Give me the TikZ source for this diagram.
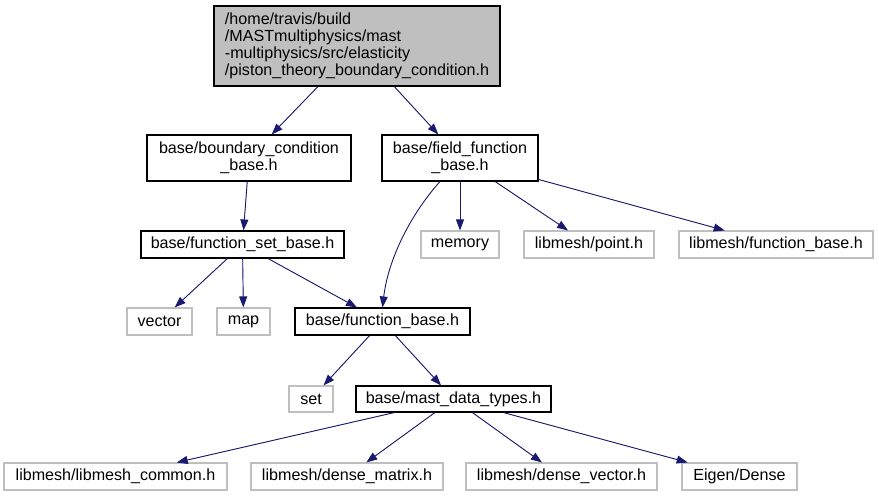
\documentclass[tikz,border=0pt]{standalone}
\usepackage{fontspec}
\setmainfont{Liberation Sans}
\usetikzlibrary{arrows.meta,calc}
\definecolor{edgeblue}{HTML}{191970}
\definecolor{lgray}{HTML}{BFBFBF}
\begin{document}
\begin{tikzpicture}[x=1pt,y=-1pt,
  every node/.style={font=\fontsize{16.1}{16.8}\selectfont, inner sep=0pt, align=center, text=black},
  mainbox/.style={draw=black, line width=1.1pt, fill=white},
  extbox/.style={draw=lgray, line width=1.1pt, fill=white},
  dep/.style={draw=edgeblue, line width=0.9pt, -{Triangle[length=11pt,width=8pt]}, fill=edgeblue}
]
\useasboundingbox (0,0) rectangle (879,496);
\node[draw=black, line width=1.1pt, fill=lgray, minimum width=286pt, minimum height=80pt, align=left] (A) at (357,46)
  {/home/travis/build\\/MASTmultiphysics/mast\\-multiphysics/src/elasticity\\/piston\_theory\_boundary\_condition.h};
\node[mainbox, minimum width=204pt, minimum height=46pt] (B) at (249,158) {base/boundary\_condition\\\_base.h};
\node[mainbox, minimum width=156pt, minimum height=46pt] (C) at (460,158) {base/field\_function\\\_base.h};
\node[mainbox, minimum width=203pt, minimum height=27pt] (D) at (242.5,244.5) {base/function\_set\_base.h};
\node[extbox, minimum width=78pt, minimum height=27pt] (E) at (460,244.5) {memory};
\node[extbox, minimum width=130pt, minimum height=27pt] (F) at (589,244.5) {libmesh/point.h};
\node[extbox, minimum width=194pt, minimum height=27pt] (G) at (776,244.5) {libmesh/function\_base.h};
\node[extbox, minimum width=65pt, minimum height=27pt] (H) at (159.5,321.5) {vector};
\node[extbox, minimum width=53pt, minimum height=27pt] (I) at (243.5,321.5) {map};
\node[mainbox, minimum width=175pt, minimum height=27pt] (J) at (382.5,321.5) {base/function\_base.h};
\node[extbox, minimum width=44pt, minimum height=26pt] (K) at (311,399) {set};
\node[mainbox, minimum width=195pt, minimum height=26pt] (L) at (453.5,399) {base/mast\_data\_types.h};
\node[extbox, minimum width=223pt, minimum height=27pt] (M) at (115.5,476.5) {libmesh/libmesh\_common.h};
\node[extbox, minimum width=192pt, minimum height=27pt] (N) at (347,476.5) {libmesh/dense\_matrix.h};
\node[extbox, minimum width=191pt, minimum height=27pt] (O) at (561.5,476.5) {libmesh/dense\_vector.h};
\node[extbox, minimum width=115pt, minimum height=27pt] (P) at (739.5,476.5) {Eigen/Dense};

\draw[dep] (A) -- (B);
\draw[dep] (A) -- (C);
\draw[dep] (B) -- (D);
\draw[dep] (D) -- (H);
\draw[dep] (D) -- (I);
\draw[dep] (D) -- (J);
\draw[dep] (C) -- (E);
\draw[dep] (C) -- (F);
\draw[dep] (C) -- (G);
\draw[dep, fill=none] ($(C.south)+(-20,0)$) .. controls (410,215) and (388,260) .. (J.north);
\draw[dep] (J) -- (K);
\draw[dep] (J) -- (L);
\draw[dep] (L) -- (M);
\draw[dep] (L) -- (N);
\draw[dep] (L) -- (O);
\draw[dep] (L) -- (P);
\end{tikzpicture}
\end{document}
